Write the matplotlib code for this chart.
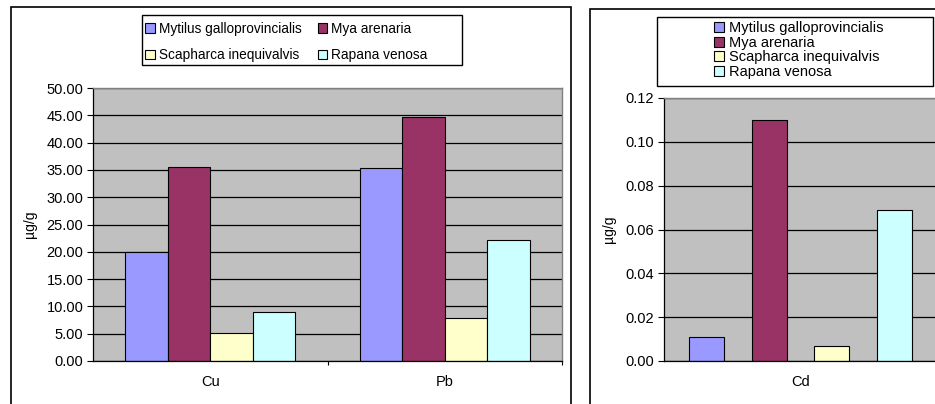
import matplotlib
matplotlib.use('Agg')
import matplotlib.pyplot as plt
import numpy as np
from matplotlib.patches import Rectangle
from matplotlib.ticker import FormatStrFormatter, MultipleLocator

plt.rcParams['font.family'] = ['Liberation Sans', 'DejaVu Sans']

species = ['Mytilus galloprovincialis', 'Mya arenaria',
           'Scapharca inequivalvis', 'Rapana venosa']
colors = ['#9999FF', '#993366', '#FFFFCC', '#CCFFFF']

metals_a = ['Cu', 'Pb']
vals_a = [[19.9, 35.4],   # Mytilus
          [35.5, 44.6],   # Mya
          [5.1, 7.8],     # Scapharca
          [8.9, 22.1]]    # Rapana

metals_b = ['Cd']
vals_b = [[0.011], [0.110], [0.007], [0.069]]

W, H = 935, 404
fig = plt.figure(figsize=(W / 100, H / 100), dpi=100)
fig.patch.set_facecolor('white')


def px(x0, y0, x1, y1):
    # pixel box -> figure rect
    return [x0 / W, 1 - y1 / H, (x1 - x0) / W, (y1 - y0) / H]


def frame(x0, y0, x1, y1, lw=1.0):
    fig.patches.append(Rectangle((x0 / W, 1 - y1 / H), (x1 - x0) / W,
                                 (y1 - y0) / H, transform=fig.transFigure,
                                 fill=False, edgecolor='black', lw=lw))


# outer chart frames (run past the bottom / right edge)
frame(11, 7, 571, 450, lw=1.2)
frame(590, 9, 1000, 450, lw=1.2)


def style_ax(ax, ncat):
    ax.set_facecolor('#C0C0C0')
    ax.set_axisbelow(True)
    ax.yaxis.grid(True, color='black', lw=0.9)
    for s in ['top', 'right']:
        ax.spines[s].set_color('#808080')
        ax.spines[s].set_linewidth(1.0)
    for s in ['left', 'bottom']:
        ax.spines[s].set_color('black')
        ax.spines[s].set_linewidth(0.9)
    ax.set_xlim(-0.5, ncat - 0.5)
    ax.set_xticks(np.arange(ncat))
    ax.set_xticks(np.arange(ncat) + 0.5, minor=True)
    ax.tick_params(axis='x', which='major', length=0, pad=10, labelsize=10.5)
    ax.tick_params(axis='x', which='minor', length=3, width=0.8)
    ax.tick_params(axis='y', length=4, width=0.8, pad=3, labelsize=10.5)
    ax.set_ylabel('µg/g', fontsize=10)


# left chart: Cu, Pb
ax1 = fig.add_axes(px(93, 88, 562, 361))
x = np.arange(len(metals_a))
bw = 0.1816
bars = []
for i, (name, col) in enumerate(zip(species, colors)):
    b = ax1.bar(x + (i - 1.5) * bw, vals_a[i], bw, color=col,
                edgecolor='black', lw=0.8, label=name)
    bars.append(b)
style_ax(ax1, len(metals_a))
ax1.set_xticklabels(metals_a)
ax1.set_ylim(0, 50)
ax1.yaxis.set_major_locator(MultipleLocator(5))
ax1.yaxis.set_major_formatter(FormatStrFormatter('%.2f'))
ax1.yaxis.set_label_coords(-0.12, 0.5)

# legend filled row by row
frame(142, 15, 462, 65)
order = [0, 2, 1, 3]
fig.legend(handles=[bars[i] for i in order],
           labels=[species[i] for i in order], ncol=2, loc='upper left',
           bbox_to_anchor=(145 / W, 1 - 22 / H), fontsize=9.8,
           frameon=False, handlelength=0.7, handleheight=0.7,
           handletextpad=0.3, columnspacing=1.2, labelspacing=0.9,
           borderpad=0, borderaxespad=0)

# right chart: Cd
ax2 = fig.add_axes(px(664, 98, 937, 361))
x2 = np.arange(len(metals_b))
step = 0.2286
bars2 = []
for i, (name, col) in enumerate(zip(species, colors)):
    b = ax2.bar(x2 + (i - 1.5) * step, vals_b[i], 0.128, color=col,
                edgecolor='black', lw=0.8, label=name)
    bars2.append(b)
style_ax(ax2, len(metals_b))
ax2.set_xticklabels(metals_b)
ax2.set_ylim(0, 0.12)
ax2.yaxis.set_major_locator(MultipleLocator(0.02))
ax2.yaxis.set_major_formatter(FormatStrFormatter('%.2f'))
ax2.yaxis.set_label_coords(-0.175, 0.5)

frame(657, 17, 933, 86)
fig.legend(handles=bars2, labels=species, ncol=1, loc='upper left',
           bbox_to_anchor=(714 / W, 1 - 21 / H), fontsize=10.5,
           frameon=False, handlelength=0.7, handleheight=0.7,
           handletextpad=0.3, labelspacing=0.05, borderpad=0,
           borderaxespad=0)

fig.savefig('out.png', dpi=100)
